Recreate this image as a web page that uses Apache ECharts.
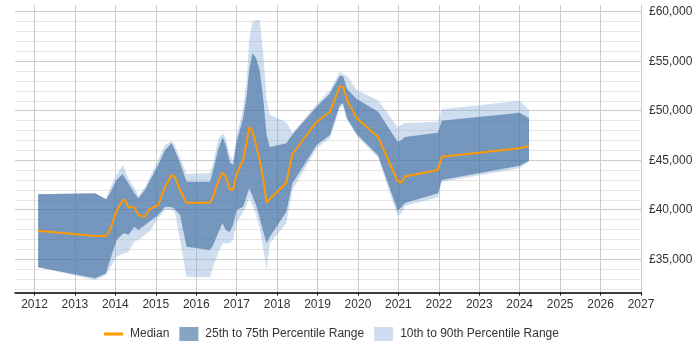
<!DOCTYPE html>
<html>
<head>
<meta charset="utf-8">
<script src="https://cdn.jsdelivr.net/npm/echarts@6/dist/echarts.min.js"></script>
<style>
  html, body { margin: 0; padding: 0; background: #fff; }
  #chart { width: 700px; height: 350px; }
</style>
</head>
<body>
<div id="chart"></div>
<script>
// ---- data ----
const dates = [2012.09, 2013.50, 2013.77, 2013.87, 2014.03, 2014.18, 2014.24, 2014.32, 2014.47, 2014.57,
  2014.73, 2014.84, 2015.06, 2015.23, 2015.39, 2015.47, 2015.60, 2015.76, 2016.34, 2016.42,
  2016.54, 2016.65, 2016.73, 2016.83, 2016.91, 2017.00, 2017.16, 2017.25, 2017.31, 2017.39,
  2017.48, 2017.57, 2017.66, 2017.74, 2017.82, 2018.23, 2018.38, 2018.98, 2019.31, 2019.55,
  2019.63, 2019.73, 2019.97, 2020.50, 2020.98, 2021.08, 2021.16, 2021.98, 2022.07, 2024.00, 2024.23];
const p10 = [34180, 32900, 33400, 34110, 35250, 35530, 35630, 35730, 36770, 36940,
  37450, 37780, 39160, 39970, 39970, 39770, 36940, 33240, 33170, 34250,
  35600, 36610, 36610, 36610, 36940, 38630, 39770, 40480, 41180, 40480,
  39470, 38150, 35930, 33910, 36610, 38630, 41990, 46230, 47240, 50270,
  50480, 49060, 47450, 45220, 39370, 39670, 40380, 41250, 42800, 44180, 44870];
const p25 = [34180, 33070, 33580, 34920, 36940, 37550, 37620, 37450, 38290, 37950,
  38460, 38790, 39470, 40300, 40270, 40070, 39470, 36260, 35930, 36440,
  37620, 38630, 37950, 37750, 38460, 39970, 40300, 41390, 42190, 41390,
  40480, 39160, 37750, 36610, 37270, 39800, 42670, 46540, 47550, 50580,
  50750, 49230, 47650, 45480, 39920, 40270, 40680, 41660, 43000, 44450, 44950];
const median = [37880, 37350, 37350, 37950, 39900, 40980, 40980, 40240, 40240, 39470,
  39300, 40040, 40480, 42320, 43510, 43330, 41990, 40710, 40710, 41320,
  42830, 43740, 43330, 42060, 41990, 43610, 45020, 46870, 48320, 47950,
  46540, 45020, 43000, 40710, 41080, 42730, 45630, 48890, 49900, 52430,
  52430, 51080, 49230, 47340, 42900, 42750, 43360, 44010, 45360, 46200, 46440];
const p75 = [41560, 41660, 41050, 41690, 43000, 43610, 43200, 42670, 41690, 41150,
  41990, 42830, 44520, 46030, 46710, 46030, 44720, 42830, 42830, 44010,
  46030, 47310, 46530, 44790, 44520, 46870, 49260, 51590, 54110, 55800,
  55320, 54110, 51080, 47550, 46330, 46710, 47620, 50410, 51760, 53510,
  53510, 52190, 51180, 49900, 46870, 47040, 47340, 47780, 48990, 49800, 49230];
const p90 = [41560, 41660, 41050, 42190, 43510, 44520, 44010, 43170, 42190, 41390,
  42290, 43170, 45020, 46530, 46940, 46530, 45220, 43610, 43710, 44690,
  47040, 47720, 47240, 45530, 45020, 47450, 50270, 53100, 57140, 58960,
  59160, 59160, 55630, 51080, 49570, 48860, 47720, 50680, 52090, 53910,
  53710, 53510, 52090, 51030, 48350, 48560, 48760, 48890, 50140, 51010, 50070];

const xTicks = [2012, 2013, 2014, 2015, 2016, 2017, 2018, 2019, 2020, 2021, 2022, 2023, 2024, 2025, 2026, 2027];
const yTicks = [35000, 40000, 45000, 50000, 55000, 60000];
const legendNames = ['Median', '25th to 75th Percentile Range', '10th to 90th Percentile Range'];

const X_MIN = 2011.518, X_MAX = 2027;
const Y_MIN = 31640, Y_MAX = 60680;
const FONT = "'Liberation Sans', Arial, sans-serif";
const LIGHT = 'rgba(135,172,212,0.4)';
const DARK = 'rgba(57,103,157,0.6)';

function fmtMoney(v) {
  return '£' + Math.round(v).toString().replace(/\B(?=(\d{3})+(?!\d))/g, ',');
}

function bandSeries(name, lo, hi, fill) {
  return {
    type: 'custom',
    name: name,
    xAxisIndex: 0,
    yAxisIndex: 1,
    silent: true,
    animation: false,
    itemStyle: { color: fill },
    data: dates.map((d, i) => [d, lo[i], hi[i]]),
    encode: { x: 0, y: [1, 2] },
    renderItem: function (params, api) {
      if (params.dataIndex !== 0) return null;
      const pts = [];
      for (let i = 0; i < dates.length; i++) pts.push(api.coord([dates[i], hi[i]]));
      for (let i = dates.length - 1; i >= 0; i--) pts.push(api.coord([dates[i], lo[i]]));
      return { type: 'polygon', shape: { points: pts }, style: { fill: fill, stroke: null } };
    }
  };
}

const chart = echarts.init(document.getElementById('chart'), null, { renderer: 'canvas' });
chart.setOption({
  backgroundColor: '#ffffff',
  animation: false,
  textStyle: { fontFamily: FONT },
  grid: { left: 15, right: 59, top: 5, bottom: 57.5, containLabel: false },
  legend: {
    left: 104,
    top: 327,
    padding: 0,
    itemWidth: 19,
    itemHeight: 14,
    itemGap: 10,
    textStyle: { fontSize: 12, color: '#333', fontFamily: FONT, padding: [0, 0, 0, 2] },
    selectedMode: false,
    data: [
      { name: legendNames[0], icon: 'path://M0,0 L19,0 L19,3 L0,3 Z', itemStyle: { color: '#ff9900' } },
      { name: legendNames[1], icon: 'rect' },
      { name: legendNames[2], icon: 'rect' }
    ]
  },
  xAxis: {
    type: 'value',
    min: X_MIN,
    max: X_MAX,
    splitNumber: 15,
    minInterval: 1,
    maxInterval: 1,
    axisLine: { show: true, onZero: false, lineStyle: { color: '#000', width: 1.5 } },
    axisTick: { show: true, length: 3, customValues: xTicks, lineStyle: { color: '#000' } },
    axisLabel: {
      customValues: xTicks,
      margin: 6,
      fontSize: 12,
      color: '#333',
      fontFamily: FONT,
      formatter: function (v) { return Number.isInteger(v) ? String(v) : ''; }
    },
    splitLine: { show: true, showMinLine: true, showMaxLine: true, lineStyle: { color: '#cccccc', width: 1 } }
  },
  yAxis: [
    {
      type: 'value',
      position: 'right',
      min: Y_MIN,
      max: Y_MAX,
      splitNumber: 29,
      minInterval: 1000,
      maxInterval: 1000,
      axisLine: { show: false },
      axisTick: { show: false },
      axisLabel: { show: false },
      splitLine: { show: true, showMinLine: false, showMaxLine: false, lineStyle: { color: '#e6e6e6', width: 1 } }
    },
    {
      type: 'value',
      position: 'right',
      min: Y_MIN,
      max: Y_MAX,
      splitNumber: 6,
      minInterval: 5000,
      maxInterval: 5000,
      axisLine: { show: false },
      axisTick: { show: false },
      axisLabel: {
        customValues: yTicks,
        margin: 8,
        fontSize: 12,
        color: '#333',
        fontFamily: FONT,
        formatter: function (v) { return v % 5000 === 0 ? fmtMoney(v) : ''; }
      },
      splitLine: { show: true, showMinLine: false, showMaxLine: false, lineStyle: { color: '#cccccc', width: 1 } }
    }
  ],
  series: [
    bandSeries(legendNames[2], p10, p90, LIGHT),
    bandSeries(legendNames[1], p25, p75, DARK),
    {
      type: 'line',
      name: legendNames[0],
      xAxisIndex: 0,
      yAxisIndex: 1,
      data: dates.map((d, i) => [d, median[i]]),
      symbol: 'none',
      showSymbol: false,
      silent: true,
      lineStyle: { color: '#ff9900', width: 2 },
      itemStyle: { color: '#ff9900' },
      z: 5
    }
  ]
});
</script>
</body>
</html>
